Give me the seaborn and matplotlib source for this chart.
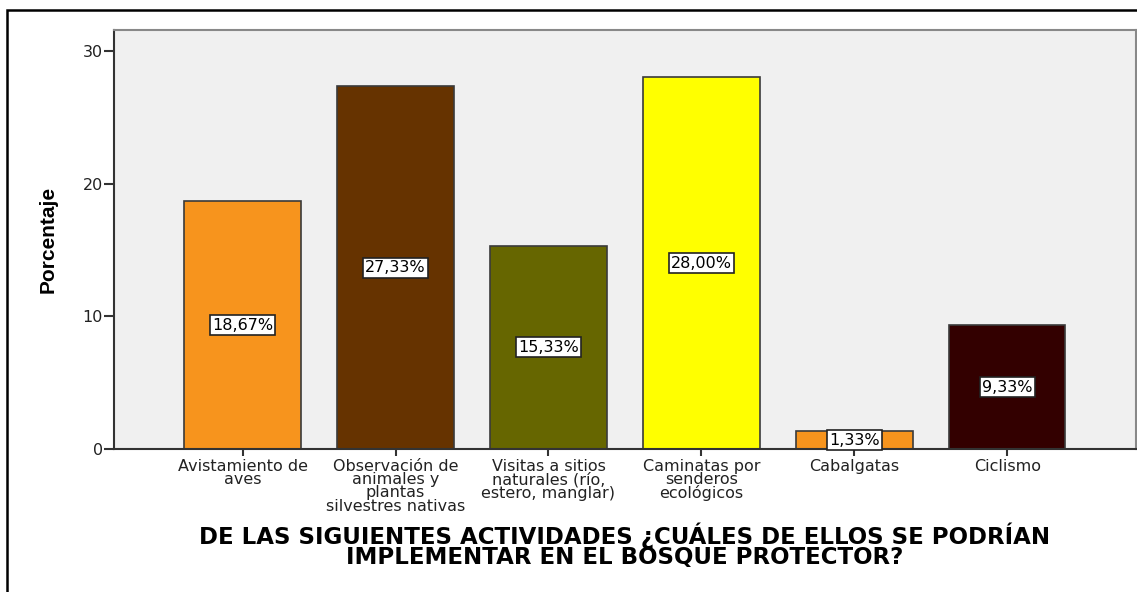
import matplotlib
matplotlib.use('Agg')
import matplotlib.pyplot as plt
import seaborn as sns
import pandas as pd
from matplotlib.patches import Rectangle

actividades = ['Avistamiento de\naves',
               'Observación de\nanimales y\nplantas\nsilvestres nativas',
               'Visitas a sitios\nnaturales (río,\nestero, manglar)',
               'Caminatas por\nsenderos\necológicos',
               'Cabalgatas',
               'Ciclismo']
porcentajes = [18.67, 27.33, 15.33, 28.00, 1.33, 9.33]
etiquetas = ['18,67%', '27,33%', '15,33%', '28,00%', '1,33%', '9,33%']
colores = ['#F7941D', '#663300', '#666600', '#FFFF00', '#F7941D', '#330000']

df = pd.DataFrame({'actividad': actividades, 'pct': porcentajes})

sns.set_style('white')
plt.rcParams['font.family'] = ['DejaVu Sans']

fig = plt.figure(figsize=(11.37, 5.92), dpi=100)
ax = fig.add_axes([0.1003, 0.2416, 0.8987, 0.7077])
ax.set_facecolor('#F0F0F0')

sns.barplot(data=df, x='actividad', y='pct', hue='actividad', palette=colores,
            legend=False, width=0.76, edgecolor='#3a3a3a', linewidth=1.2,
            saturation=1, ax=ax)

for i, (v, t) in enumerate(zip(porcentajes, etiquetas)):
    ax.text(i, v / 2, t, ha='center', va='center', fontsize=11.5, color='black',
            bbox=dict(boxstyle='square,pad=0.15', fc='white', ec='#222222', lw=1.2))

ax.set_xlim(-0.84, 5.84)
ax.set_ylim(0, 31.57)
ax.set_yticks([0, 10, 20, 30])
ax.tick_params(axis='y', length=7, width=1.5, color='#333333', labelsize=11.5,
               labelcolor='#222222', pad=1, left=True)
ax.tick_params(axis='x', length=5, width=1.5, color='#333333', labelsize=11.5,
               labelcolor='#222222', pad=2, bottom=True, direction='out')
for lbl in ax.get_xticklabels():
    lbl.set_linespacing(0.86)

for s in ['left', 'bottom']:
    ax.spines[s].set_color('#333333')
    ax.spines[s].set_linewidth(1.5)
for s in ['top', 'right']:
    ax.spines[s].set_color('#888888')
    ax.spines[s].set_linewidth(1.5)

ax.set_xlabel('')
ax.set_ylabel('Porcentaje', fontsize=15, fontweight='bold', color='black',
              family=['Liberation Sans Narrow', 'Liberation Sans'], labelpad=18)

fig.text(0.5497, 0.0777, 'DE LAS SIGUIENTES ACTIVIDADES ¿CUÁLES DE ELLOS SE PODRÍAN\nIMPLEMENTAR EN EL BOSQUE PROTECTOR?',
         ha='center', va='center', fontsize=16.5, fontweight='bold', color='black',
         linespacing=0.86)

# marco exterior
fig.patches.append(Rectangle((0.0065, -0.05), 1.1, 1.033, transform=fig.transFigure,
                             fill=False, ec='black', lw=1.8))

fig.savefig('out.png', dpi=100)
